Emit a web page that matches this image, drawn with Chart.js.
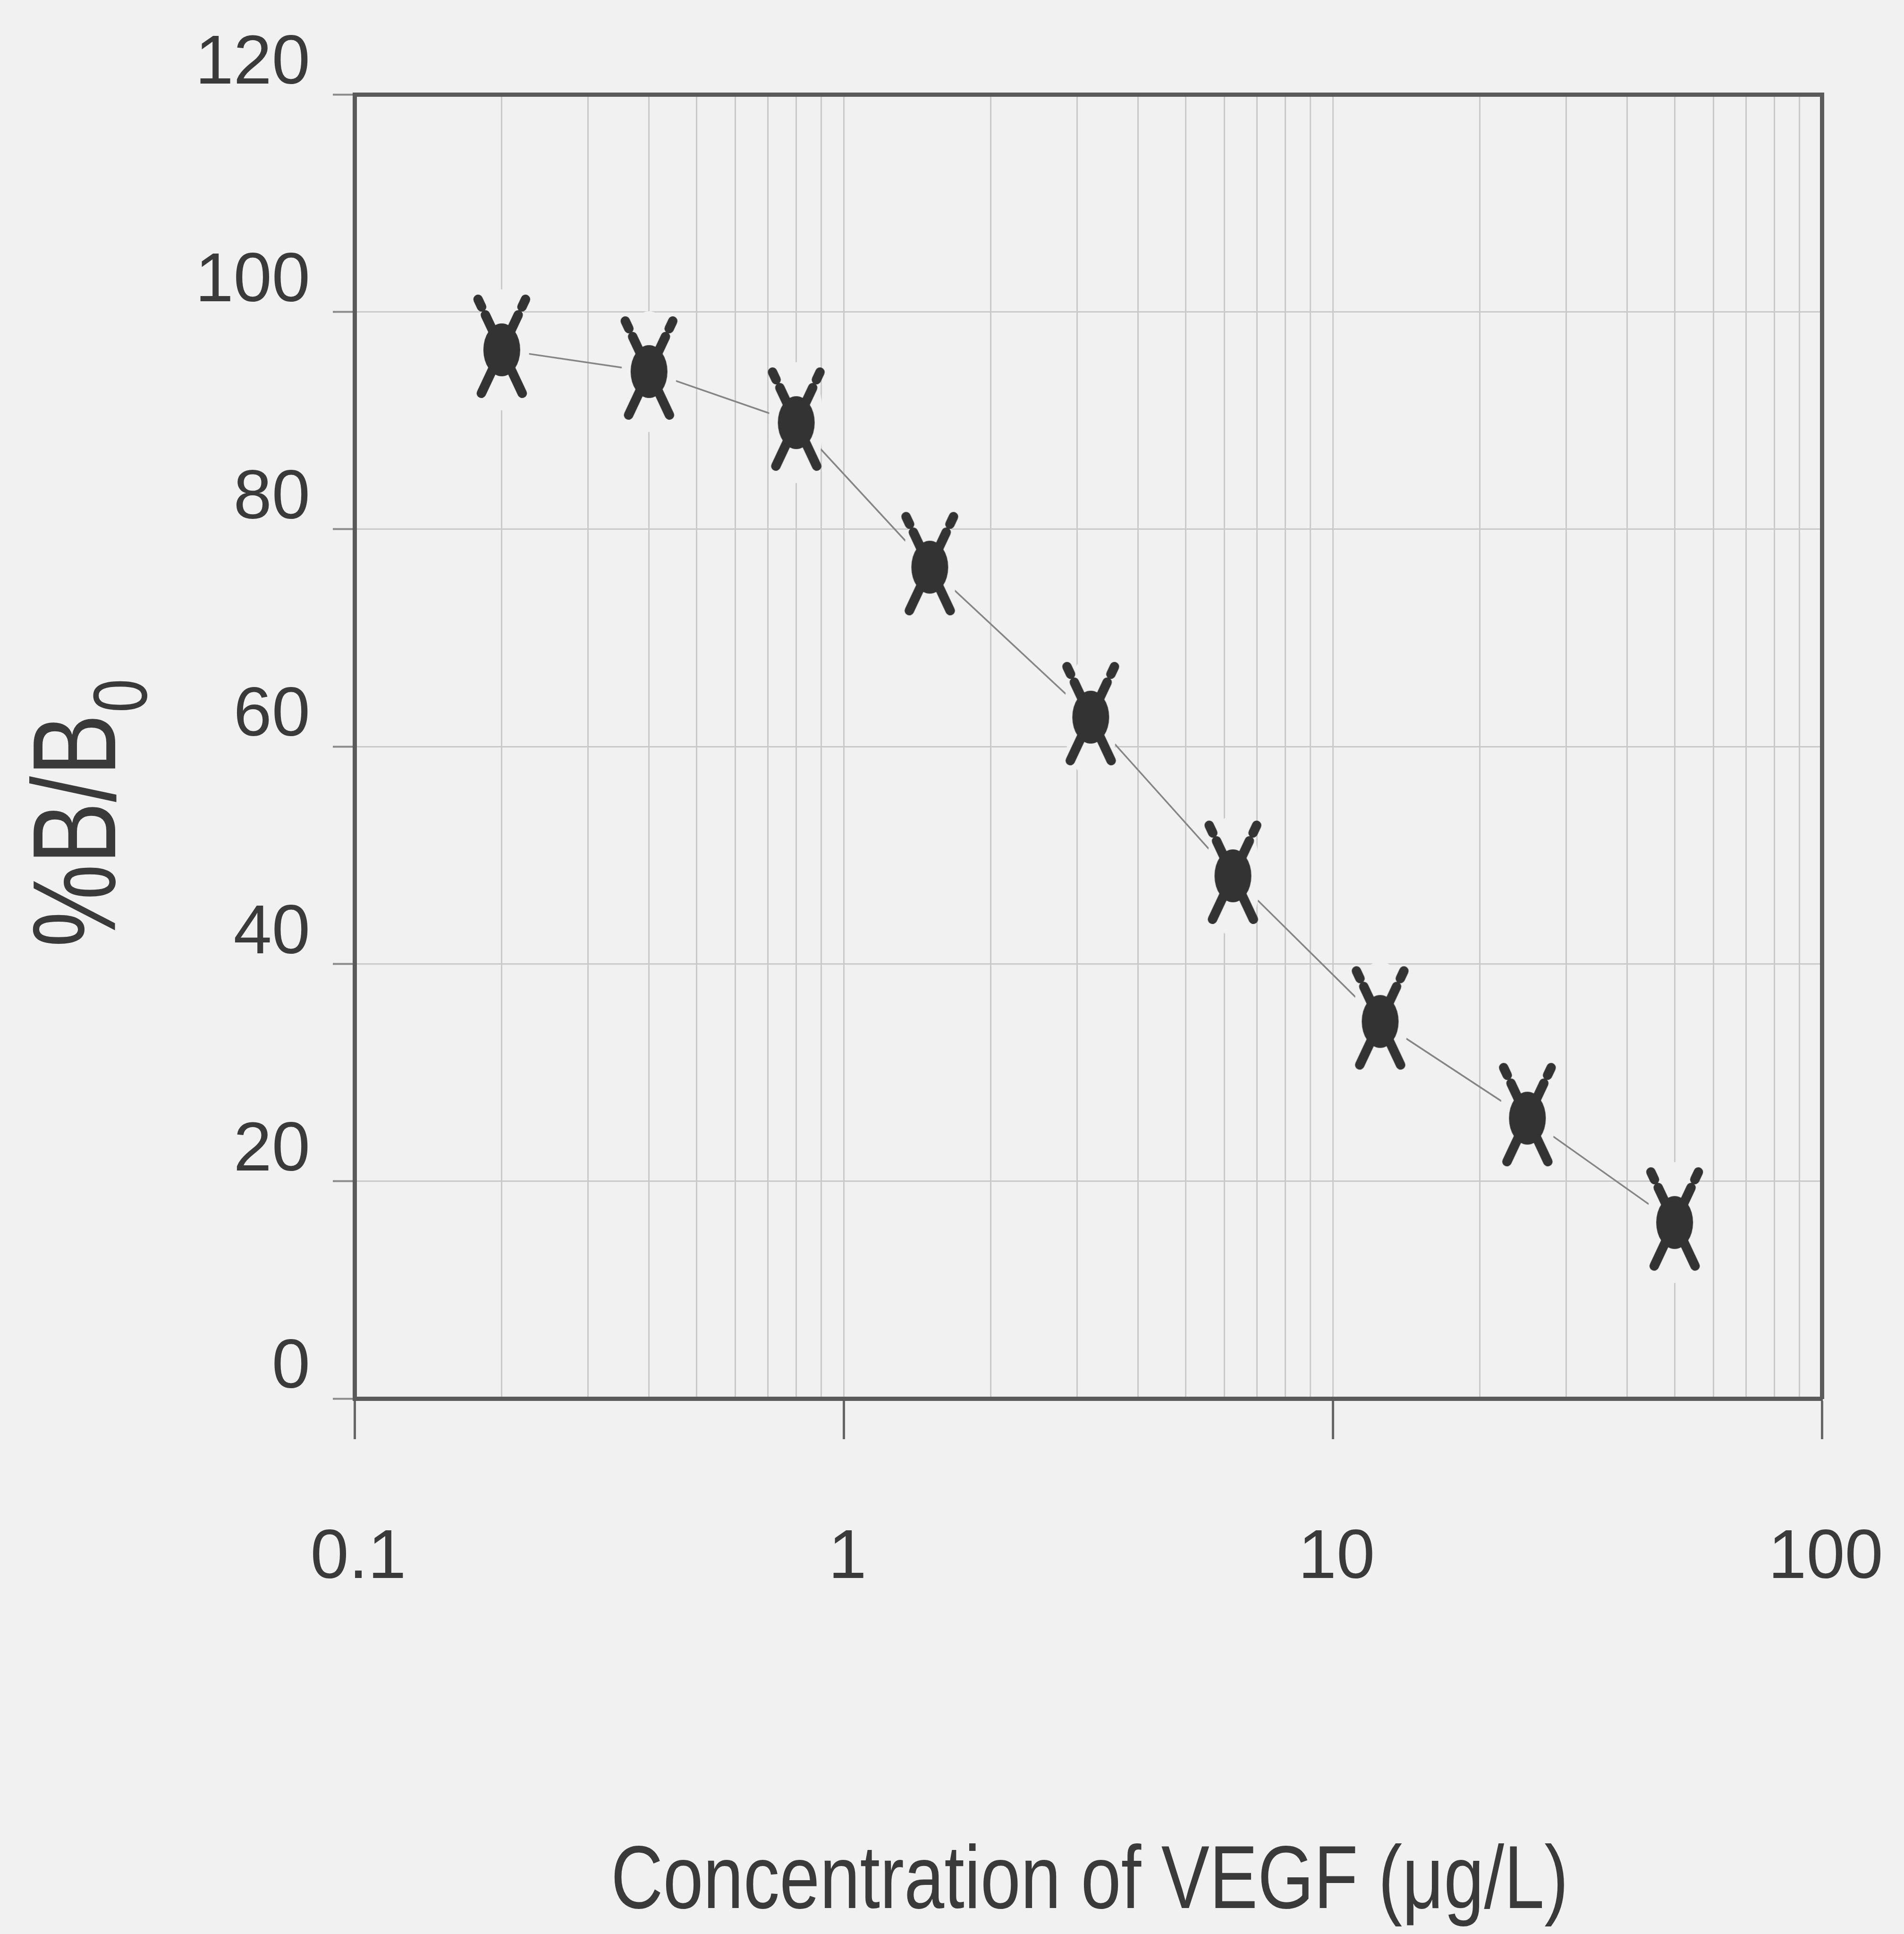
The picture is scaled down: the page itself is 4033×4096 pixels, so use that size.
<!DOCTYPE html>
<html><head><meta charset="utf-8">
<script src="https://cdn.jsdelivr.net/npm/chart.js@4.4.0/dist/chart.umd.min.js"></script>
<style>html,body{margin:0;padding:0;background:#f1f1f1;} canvas{display:block;}</style>
</head><body>
<canvas id="c" width="4033" height="4096"></canvas>
<script>
// ---- data ----
const concentrations = [0.2, 0.4, 0.8, 1.5, 3.2, 6.25, 12.5, 25, 50];
const percentBB0 = [96.5, 94.5, 89.8, 76.5, 62.7, 48.1, 34.7, 25.8, 16.2];
const xGridValues = [0.1,0.2,0.3,0.4,0.5,0.6,0.7,0.8,0.9,1,2,3,4,5,6,7,8,9,10,20,30,40,50,60,70,80,90,100];
const xMajorValues = [0.1, 1, 10, 100];
const xTickLabels = ['0.1', '1', '10', '100'];
const yTickValues = [0, 20, 40, 60, 80, 100, 120];
const yTickLabels = ['0', '20', '40', '60', '80', '100', '120'];
const xTitle = 'Concentration of VEGF (\u03bcg/L)';
const yTitleMain = '%B/B';
const yTitleSub = '0';

// ---- style ----
const BG = '#f1f1f1';
const INK = '#3a3a3a';
const AXIS = '#5a5a5a';
const GRID = '#cacaca';
const SANS = '"Liberation Sans", Arial, sans-serif';

function makeMarker() {
  const w = 128, h = 264;
  const c = document.createElement('canvas');
  c.width = w; c.height = h;
  const g = c.getContext('2d');
  const cx = w / 2, cy = h / 2;
  g.fillStyle = BG;
  g.beginPath(); g.ellipse(cx, cy, 58, 128, 0, 0, Math.PI * 2); g.fill();
  g.strokeStyle = '#333333'; g.lineWidth = 20; g.lineCap = 'round';
  const k = 0.47;
  const seg = (t1, t2, s) => {
    g.beginPath();
    g.moveTo(cx + s * k * t1, cy + t1);
    g.lineTo(cx + s * k * t2, cy + t2);
    g.stroke();
  };
  [-1, 1].forEach(s => {
    seg(0, 92, s);
    seg(0, -74, -s);
    seg(-91, -107, -s);
  });
  g.fillStyle = '#333333';
  g.beginPath(); g.ellipse(cx, cy, 39, 56, 0, 0, Math.PI * 2); g.fill();
  return c;
}
const marker = makeMarker();

// axis titles drawn condensed, as in the original (narrow typeface)
const axisTitles = {
  id: 'axisTitles',
  afterDraw(chart) {
    const ctx = chart.ctx, a = chart.chartArea;
    ctx.save();
    ctx.fillStyle = INK;
    ctx.font = '189px ' + SANS;
    ctx.textAlign = 'center';
    ctx.textBaseline = 'alphabetic';
    ctx.translate((a.left + a.right) / 2 + 3, chart.height - 55);
    ctx.scale(0.81, 1);
    ctx.fillText(xTitle, 0, 0);
    ctx.restore();

    ctx.save();
    ctx.fillStyle = INK;
    ctx.textAlign = 'left';
    ctx.textBaseline = 'alphabetic';
    ctx.translate(a.left - 507, 2006);
    ctx.rotate(-Math.PI / 2);
    ctx.scale(0.79, 1);
    ctx.font = '250px ' + SANS;
    ctx.fillText(yTitleMain, 0, 0);
    const w = ctx.measureText(yTitleMain).width;
    ctx.font = '162px ' + SANS;
    ctx.fillText(yTitleSub, w + 4, 66);
    ctx.restore();
  }
};

Chart.defaults.font.family = SANS;

new Chart(document.getElementById('c').getContext('2d'), {
  type: 'line',
  data: {
    datasets: [{
      data: concentrations.map((x, i) => ({ x: x, y: percentBB0[i] })),
      borderColor: '#858585',
      borderWidth: 3.5,
      tension: 0,
      fill: false,
      pointStyle: marker,
      pointRadius: 10,
      pointHoverRadius: 10,
      clip: false
    }]
  },
  plugins: [axisTitles],
  options: {
    responsive: false,
    animation: false,
    events: [],
    layout: { padding: { left: 0, top: 200, right: 174, bottom: 0 } },
    plugins: { legend: { display: false }, tooltip: { enabled: false } },
    scales: {
      x: {
        type: 'logarithmic', position: 'bottom', min: 0.1, max: 100,
        afterBuildTicks: s => { s.ticks = xGridValues.map(v => ({ value: v, major: xMajorValues.includes(v) })); },
        afterFit: s => { s.height = 4096 - 2962; },
        grid: {
          color: GRID, lineWidth: 3, tickLength: 86,
          tickColor: c => (c.tick && xMajorValues.includes(c.tick.value)) ? '#666666' : 'rgba(0,0,0,0)',
          tickWidth: 5
        },
        border: { display: true, color: AXIS, width: 9 },
        ticks: {
          autoSkip: false, maxRotation: 0, minRotation: 0, padding: 0, labelOffset: 8,
          font: { family: SANS, size: 146, lineHeight: '508px' }, color: INK,
          callback: v => { const i = xMajorValues.indexOf(v); return i >= 0 ? xTickLabels[i] : ''; }
        },
        title: { display: false }
      },
      y: {
        type: 'linear', position: 'left', min: 0, max: 120,
        afterBuildTicks: s => { s.ticks = yTickValues.map(v => ({ value: v })); },
        afterFit: s => { s.width = 751; },
        grid: { color: GRID, lineWidth: 3, tickLength: 46, tickColor: '#8a8a8a', tickWidth: 4 },
        border: { display: true, color: AXIS, width: 9 },
        ticks: {
          padding: 48, labelOffset: -63,
          font: { family: SANS, size: 146 }, color: INK,
          callback: v => yTickLabels[yTickValues.indexOf(v)]
        },
        title: { display: false }
      },
      x2: {
        type: 'logarithmic', position: 'top', min: 0.1, max: 100,
        grid: { display: false, drawTicks: false },
        ticks: { display: false },
        border: { display: true, color: AXIS, width: 9 }
      },
      y2: {
        type: 'linear', position: 'right', min: 0, max: 120,
        grid: { display: false, drawTicks: false },
        ticks: { display: false },
        border: { display: true, color: AXIS, width: 9 }
      }
    }
  }
});
</script>
</body></html>
